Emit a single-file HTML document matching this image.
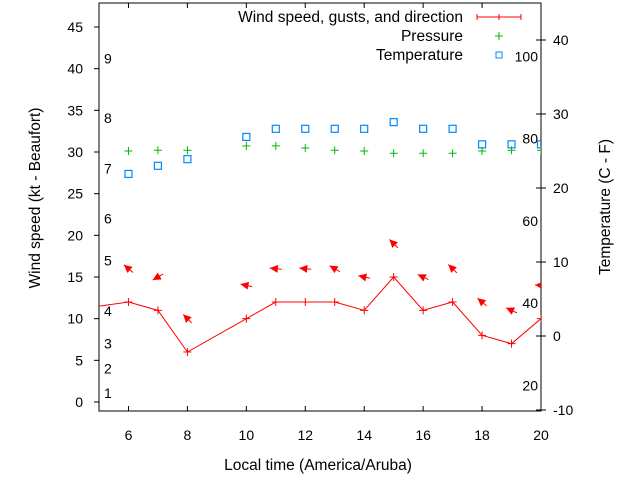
<!DOCTYPE html>
<html><head><meta charset="utf-8"><style>
body{margin:0;background:#fff}
svg{display:block;font-family:"Liberation Sans",sans-serif;font-size:14px}
.big{font-size:15.5px}
</style></head><body>
<svg width="640" height="480" id="chart">
</svg>
<script>
const hours=[6,7,8,10,11,12,13,14,15,16,17,18,19,20];
const windKt=[12,11,6,10,12,12,12,11,15,11,12,8,7,10];
const gustKt=[16,15,10,14,16,16,16,15,19,15,16,12,11,14];
const windDir=[130,60,135,102,95,95,120,102,135,115,135,130,115,95];
const pressure=[25.0,25.1,25.1,25.7,25.7,25.4,25.1,25.0,24.7,24.7,24.7,25.0,25.1,25.1];
const tempC=[21.9,23.0,23.9,26.9,28.0,28.0,28.0,28.0,28.9,28.0,28.0,25.9,25.9,25.9];
const xTicks=[6,8,10,12,14,16,18,20];
const ktTicks=[0,5,10,15,20,25,30,35,40,45];
const cTicks=[-10,0,10,20,30,40];
const fTicks=[20,40,60,80,100];
const beaufort=[[1,1.1],[2,4],[3,7],[4,10.9],[5,17],[6,22],[7,28],[8,34.1],[9,41.2]];

const L=99,R=541,T=3,B=411;
const x=h=>L+(h-5)*(R-L)/15;
const yk=v=>402-v*8.333;
const yc=c=>410-(c+10)*7.4;
const yf=f=>yc((f-32)*5/9);
const svg=document.getElementById('chart');
const NS='http://www.w3.org/2000/svg';
function mk(tag,attrs,parent){const e=document.createElementNS(NS,tag);for(const k in attrs)e.setAttribute(k,attrs[k]);(parent||svg).appendChild(e);return e;}
function txt(s,xx,yy,anchor,parent){const t=mk('text',{x:xx,y:yy,'text-anchor':anchor||'middle',fill:'#000'},parent);t.textContent=s;return t;}

const clip=mk('clipPath',{id:'pc'});mk('rect',{x:L,y:T,width:R-L,height:B-T},clip);

const frame=mk('rect',{x:L,y:T,width:R-L,height:B-T,fill:'none',stroke:'#000','stroke-width':1});



xTicks.forEach(h=>{
  mk('line',{x1:x(h),x2:x(h),y1:B,y2:B-5,stroke:'#000'});
  mk('line',{x1:x(h),x2:x(h),y1:T,y2:T+5,stroke:'#000'});
  const t=txt(h,x(h),440);
  
  
});
ktTicks.forEach(v=>{
  mk('line',{x1:L-5,x2:L,y1:yk(v),y2:yk(v),stroke:'#000'});
  const t=txt(v,83,yk(v)+5,'end');
  
  
});
beaufort.forEach(b=>{
  const t=txt(b[0],104,yk(b[1])+5,'start');
  
  
});
cTicks.forEach(c=>{
  mk('line',{x1:R,x2:R+5,y1:yc(c),y2:yc(c),stroke:'#000'});
  mk('line',{x1:R-5,x2:R,y1:yc(c),y2:yc(c),stroke:'#000'});
  const t=txt(c,553,yc(c)+5,'start');
  
  
});
fTicks.forEach(f=>{
  const t=txt(f,538,yf(f)+5,'end');
  
  
});

const g=mk('g',{'clip-path':'url(#pc)'});



const pts=[[4,11]].concat(hours.map((h,i)=>[h,windKt[i]]));
const pl=mk('polyline',{points:pts.map(p=>x(p[0])+','+yk(p[1])).join(' '),fill:'none',stroke:'#f00','stroke-width':1},g);


hours.forEach((h,i)=>{
  const p=mk('path',{d:`M${x(h)-4},${yk(windKt[i])}h8M${x(h)},${yk(windKt[i])-4}v8`,stroke:'#f00'},g);
  
  
  const d=windDir[i]*Math.PI/180,ux=-Math.sin(d),uy=Math.cos(d);
  const cx=x(h),cy=yk(gustKt[i]),len=6;
  const hx=cx+ux*len,hy=cy+uy*len,tx=cx-ux*len,ty=cy-uy*len;
  const px=-uy,py=ux;
  const a=mk('g',{},g);
  
  
  mk('line',{x1:tx,y1:ty,x2:hx,y2:hy,stroke:'#f00'},a);
  mk('polygon',{points:`${hx},${hy} ${hx-ux*8+px*4},${hy-uy*8+py*4} ${hx-ux*8-px*4},${hy-uy*8-py*4}`,fill:'#f00'},a);
  const yp=yc(pressure[i]);
  const pp=mk('path',{d:`M${x(h)-4},${yp}h8M${x(h)},${yp-4}v8`,stroke:'#0b0'},g);
  
  
  const yt=yc(tempC[i]);
  const sq=mk('rect',{x:x(h)-3.5,y:yt-3.5,width:7,height:7,fill:'none',stroke:'#08f','stroke-width':1.2},g);
  
  
});

const lg=mk('g',{'class':'big'});


txt('Wind speed, gusts, and direction',463,22,'end',lg);
mk('path',{d:'M477,17h44M477,14v6M521,14v6M499,14v6',stroke:'#f00'},lg);
txt('Pressure',463,41,'end',lg);
mk('path',{d:'M495,36h8M499,32v8',stroke:'#0b0'},lg);
txt('Temperature',463,60,'end',lg);
mk('rect',{x:496,y:52,width:6,height:6,fill:'none',stroke:'#08f'},lg);

const xt=txt('Local time (America/Aruba)',318,470);
xt.setAttribute('class','big');


const yt=txt('Wind speed (kt - Beaufort)',0,0);
yt.setAttribute('class','big');
yt.setAttribute('transform','translate(40,198) rotate(-90)');


const y2=txt('Temperature (C - F)',0,0);
y2.setAttribute('class','big');
y2.setAttribute('transform','translate(610,207) rotate(-90)');


</script>
</body></html>
